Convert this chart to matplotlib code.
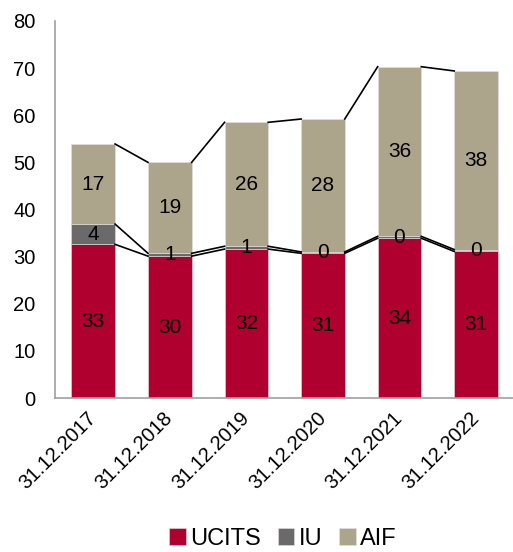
import matplotlib
matplotlib.use("Agg")
import matplotlib.pyplot as plt
import numpy as np

categories = ["31.12.2017", "31.12.2018", "31.12.2019", "31.12.2020", "31.12.2021", "31.12.2022"]
ucits = [32.6, 30.1, 31.6, 30.7, 33.9, 31.1]
iu = [4.3, 0.6, 0.6, 0.3, 0.4, 0.4]
aif = [17.0, 19.3, 26.3, 28.2, 36.0, 37.9]
series_names = ["UCITS", "IU", "AIF"]
colors = ["#B00030", "#6A6A6A", "#ADA58B"]

plt.rcParams['font.family'] = ['Liberation Sans', 'DejaVu Sans']

fig = plt.figure(figsize=(5.13, 5.52), dpi=100)
ax = fig.add_axes([55/513, 1 - 398/552, 1 - 55/513 + 0.01, (398 - 21)/552])

x = np.arange(len(categories))
w = 0.57
bottom = np.zeros(len(categories))
tops = []
for vals, name, c in zip([ucits, iu, aif], series_names, colors):
    v = np.array(vals)
    ax.bar(x, v, w, bottom=bottom, color=c, label=name, edgecolor="#e8e0e0", linewidth=0.4, zorder=2)
    for xi, b, vi in zip(x, bottom, v):
        ax.text(xi, b + vi / 2, f"{round(vi):d}", ha="center", va="center", fontsize=15, color="black", zorder=4)
    bottom = bottom + v
    tops.append(bottom.copy())

# series lines
for t in tops:
    for i in range(len(x) - 1):
        ax.plot([x[i] + w / 2, x[i + 1] - w / 2], [t[i], t[i + 1]], color="black", lw=1.2, zorder=3)

ax.set_ylim(0, 80)
ax.set_xlim(-0.5, 5.55)
ax.set_yticks(range(0, 81, 10))
ax.set_xticks(x)
ax.set_xticklabels(categories, rotation=45, ha="right", va="center", rotation_mode="anchor", fontsize=14.5)
ax.tick_params(axis="y", length=0, labelsize=14.5, pad=14)
ax.tick_params(axis="x", length=0, pad=12)
for s in ["top", "right"]:
    ax.spines[s].set_visible(False)
for s in ["left", "bottom"]:
    ax.spines[s].set_color("#A0A0A0")
    ax.spines[s].set_linewidth(1.2)

handles, labels = ax.get_legend_handles_labels()
fig.legend(handles, labels, loc="center", bbox_to_anchor=(283/513, 1 - 539/552), ncol=3, frameon=False,
           fontsize=17, handlelength=0.7, handleheight=0.7, handletextpad=0.2, columnspacing=0.7,
           borderpad=0.1)

fig.savefig("out.png", dpi=100)
